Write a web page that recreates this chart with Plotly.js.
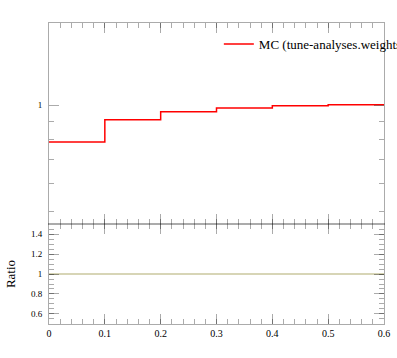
<!DOCTYPE html>
<html>
<head>
<meta charset="utf-8">
<script src="https://cdn.plot.ly/plotly-3.0.1.min.js"></script>
<style>html,body{margin:0;padding:0;background:#fff;}#plot{width:397px;height:358px;}</style>
</head>
<body>
<div id="plot"></div>
<script>
// Bin edges and values
var binEdges = [0, 0.1, 0.2, 0.3, 0.4, 0.5, 0.6];
var mcValues = [0.786, 0.909, 0.957, 0.981, 0.995, 1.002];
var ratioValues = [1, 1, 1, 1, 1, 1];
var seriesName = "MC (tune-analyses.weights)";
var xTickVals = [0, 0.1, 0.2, 0.3, 0.4, 0.5, 0.6];
var xTickText = ["0", "0.1", "0.2", "0.3", "0.4", "0.5", "0.6"];
var mainTickVals = [1];
var mainTickText = ["1"];
var mainMinorVals = [0.5, 0.6, 0.7, 0.8, 0.9];
var ratioTickVals = [0.6, 0.8, 1, 1.2, 1.4];
var ratioTickText = ["0.6", "0.8", "1", "1.2", "1.4"];

function stepY(v) { return v.concat([v[v.length - 1]]); }

var font = "Liberation Serif, Times New Roman, serif";
var axisCol = "rgba(0,0,0,0.33)";

var traces = [
  {
    x: binEdges, y: stepY(mcValues), type: "scatter", mode: "lines",
    line: {shape: "hv", color: "#ff0000", width: 1.5},
    name: seriesName, xaxis: "x", yaxis: "y", showlegend: true
  },
  {
    x: binEdges, y: stepY(ratioValues), type: "scatter", mode: "lines",
    line: {shape: "hv", color: "rgb(176,172,110)", width: 1.2},
    name: "ratio", xaxis: "x2", yaxis: "y2", showlegend: false
  }
];

var commonX = {
  range: [0, 0.6], tickmode: "array", tickvals: xTickVals,
  ticks: "inside", ticklen: 10, tickwidth: 1, tickcolor: axisCol,
  showline: true, linecolor: axisCol, linewidth: 1, mirror: "allticks",
  showgrid: false, zeroline: false,
  minor: {dtick: 0.02, tick0: 0, ticks: "inside", ticklen: 5, tickcolor: axisCol, showgrid: false}
};

var layout = {
  width: 397, height: 358,
  margin: {l: 49, r: 13, t: 23, b: 34, pad: 0, autoexpand: false},
  paper_bgcolor: "#fff", plot_bgcolor: "#fff",
  font: {family: font, size: 10, color: "#000"},
  showlegend: true,
  legend: {
    x: 0.507, y: 0.98, xanchor: "left", yanchor: "top",
    bgcolor: "rgba(0,0,0,0)", borderwidth: 0,
    font: {family: font, size: 13, color: "#000"}
  },
  xaxis: Object.assign({}, commonX, {
    anchor: "y", domain: [0, 1], showticklabels: false
  }),
  xaxis2: Object.assign({}, commonX, {
    anchor: "y2", domain: [0, 1], showticklabels: true,
    ticktext: xTickText, tickfont: {family: font, size: 10, color: "#000"}
  }),
  yaxis: {
    anchor: "x", domain: [0.3322, 1], type: "log",
    range: [-0.336, 0.232],
    tickmode: "array", tickvals: mainTickVals, ticktext: mainTickText,
    ticks: "inside", ticklen: 10, tickcolor: axisCol,
    showline: true, linecolor: axisCol, mirror: "allticks",
    showgrid: false, zeroline: false,
    tickfont: {family: font, size: 9, color: "#000"},
    ticklabelstandoff: 4,
    minor: {tickmode: "array", tickvals: mainMinorVals, ticks: "inside", ticklen: 5, tickcolor: axisCol, showgrid: false}
  },
  yaxis2: {
    anchor: "x2", domain: [0, 0.3322],
    range: [0.5, 1.5],
    tickmode: "array", tickvals: ratioTickVals, ticktext: ratioTickText,
    ticks: "inside", ticklen: 10, tickcolor: axisCol,
    showline: true, linecolor: axisCol, mirror: "allticks",
    showgrid: false, zeroline: false,
    tickfont: {family: font, size: 9, color: "#000"},
    ticklabelstandoff: 4,
    minor: {dtick: 0.05, tick0: 0, ticks: "inside", ticklen: 5, tickcolor: axisCol, showgrid: false},
    title: {text: "Ratio", font: {family: font, size: 13, color: "#000"}, standoff: 12}
  }
};

Plotly.newPlot("plot", traces, layout, {staticPlot: true, displayModeBar: false});
</script>
</body>
</html>
